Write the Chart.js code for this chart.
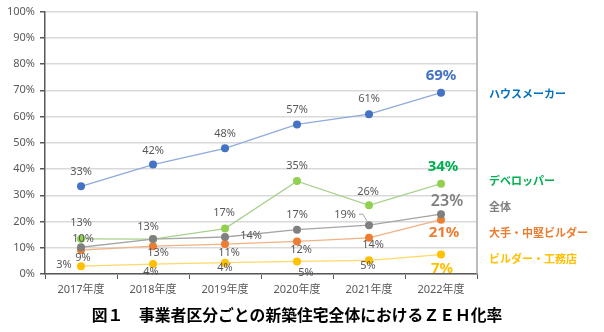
<!DOCTYPE html>
<html>
<head>
<meta charset="utf-8">
<script src="https://cdn.jsdelivr.net/npm/chart.js@4"></script>
<style>
  html, body { margin: 0; padding: 0; background: #fff; }
</style>
</head>
<body>
<canvas id="myChart" width="604" height="332"></canvas>
<script>
// data
var years = ['2017年度', '2018年度', '2019年度', '2020年度', '2021年度', '2022年度'];
var seriesNames = ['ハウスメーカー', 'デベロッパー', '全体', '大手・中堅ビルダー', 'ビルダー・工務店'];
var houseMaker = [33.4, 41.7, 47.9, 57.0, 60.9, 69.1];
var developer = [13.4, 13.3, 17.3, 35.4, 26.2, 34.4];
var overall = [10.2, 13.3, 14.1, 16.9, 18.6, 22.8];
var largeBuilder = [9.1, 10.6, 11.4, 12.4, 13.8, 20.7];
var smallBuilder = [3.0, 3.8, 4.3, 4.8, 5.2, 7.4];
var yTicks = [0, 10, 20, 30, 40, 50, 60, 70, 80, 90, 100];
var title = '図１　事業者区分ごとの新築住宅全体におけるＺＥＨ化率';

var FONT = "'Noto Sans', 'Noto Sans CJK JP', sans-serif";

// label placement (offset from point), null = no label; last one is the big coloured one
var labelOffsets = {
    houseMaker: [[0, -14], [0, -14], [0, -14], [0, -15], [0, -15], [0, -17]],
    developer: [[0, -16], [-5, -12], [-1, -16], [0, -15], [-1, -13], [2, -17]],
    overall: [[2, -8], [5, 14], [26, -1], [0, -15], [-24, -10], [6, -13]],
    largeBuilder: [[2, 8], null, [4, 9], [4, 8], [4, 7], [3, 13]],
    smallBuilder: [[-17, -1], [-2, 8], [0, 5], [9, 11], [-1, 6], [1, 14]]
};

var styles = {
    houseMaker: { line: '#8FAADC', point: '#4472C4', big: '#4472C4', legend: '#0070C0', legendY: 95 },
    developer: { line: '#A9D18E', point: '#92D050', big: '#00B050', legend: '#00B050', legendY: 182 },
    overall: { line: '#A5A5A5', point: '#808080', big: '#7F7F7F', legend: '#7F7F7F', legendY: 208 },
    largeBuilder: { line: '#F4B183', point: '#ED7D31', big: '#ED7D31', legend: '#ED7D31', legendY: 234 },
    smallBuilder: { line: '#FFD966', point: '#FFC000', big: '#FFC000', legend: '#FFC000', legendY: 260 }
};

var keys = ['houseMaker', 'developer', 'overall', 'largeBuilder', 'smallBuilder'];
var values = { houseMaker: houseMaker, developer: developer, overall: overall, largeBuilder: largeBuilder, smallBuilder: smallBuilder };

function makeDataset(key, idx) {
    var s = styles[key];
    return {
        label: seriesNames[idx],
        key: key,
        data: values[key],
        borderColor: s.line,
        borderWidth: 1.3,
        pointBackgroundColor: s.point,
        pointBorderColor: s.point,
        pointBorderWidth: 0,
        pointRadius: 4,
        tension: 0
    };
}

// drawing order: first dataset ends up on top
var drawOrder = ['houseMaker', 'overall', 'developer', 'largeBuilder', 'smallBuilder'];
var datasets = drawOrder.map(function (k) { return makeDataset(k, keys.indexOf(k)); });

var labelPlugin = {
    id: 'pointLabels',
    afterDatasetsDraw: function (chart) {
        var c = chart.ctx;
        c.save();
        c.textAlign = 'center';
        c.textBaseline = 'middle';
        chart.data.datasets.forEach(function (ds, i) {
            var meta = chart.getDatasetMeta(i);
            var offs = labelOffsets[ds.key];
            meta.data.forEach(function (pt, j) {
                var off = offs[j];
                if (!off) return;
                var last = j === ds.data.length - 1;
                if (last) {
                    c.font = (ds.key === 'overall' ? '600 16px ' : 'bold 15px ') + FONT;
                    c.fillStyle = styles[ds.key].big;
                } else {
                    c.font = '11px ' + FONT;
                    c.fillStyle = '#595959';
                }
                c.fillText(Math.round(ds.data[j]) + '%', pt.x + off[0], pt.y + off[1]);
                // little leader line for the 2021 overall label
                if (ds.key === 'overall' && j === 4) {
                    c.strokeStyle = '#A6A6A6';
                    c.lineWidth = 1;
                    c.beginPath();
                    c.moveTo(pt.x - 10, pt.y - 11);
                    c.lineTo(pt.x - 6, pt.y - 11);
                    c.lineTo(pt.x - 2, pt.y - 4);
                    c.stroke();
                }
            });
        });
        c.restore();
    },
    afterDraw: function (chart) {
        var c = chart.ctx;
        var area = chart.chartArea;
        c.save();
        // right border of plot area
        c.strokeStyle = '#A6A6A6';
        c.lineWidth = 1.5;
        c.beginPath();
        c.moveTo(area.right, area.top);
        c.lineTo(area.right, area.bottom);
        c.stroke();
        // legend at the right
        c.textAlign = 'left';
        c.textBaseline = 'middle';
        c.font = 'bold 11px ' + FONT;
        keys.forEach(function (k, i) {
            c.fillStyle = styles[k].legend;
            c.fillText(seriesNames[i], 489, styles[k].legendY);
        });
        // caption
        c.textAlign = 'center';
        c.fillStyle = '#000';
        c.font = 'bold 15.8px ' + FONT;
        c.fillText(title, 297, 316);
        c.restore();
    }
};

var ctx = document.getElementById('myChart').getContext('2d');
var myChart = new Chart(ctx, {
    type: 'line',
    data: {
        labels: years,
        datasets: datasets
    },
    options: {
        responsive: false,
        devicePixelRatio: 1,
        animation: false,
        layout: {
            padding: { left: 0, right: 127, top: 11.5, bottom: 34 }
        },
        plugins: {
            legend: { display: false },
            tooltip: { enabled: false }
        },
        scales: {
            x: {
                offset: true,
                grid: {
                    offset: true,
                    drawOnChartArea: false,
                    drawTicks: true,
                    tickLength: 5,
                    tickColor: '#595959'
                },
                border: { color: '#595959', width: 1.5 },
                ticks: {
                    color: '#595959',
                    font: { family: FONT, size: 11 },
                    padding: 4,
                    maxRotation: 0
                },
                afterFit: function (s) { s.height = 24; }
            },
            y: {
                min: 0,
                max: 100,
                afterBuildTicks: function (s) {
                    s.ticks = yTicks.map(function (v) { return { value: v }; });
                },
                grid: {
                    color: '#D9D9D9',
                    lineWidth: 1.5,
                    tickColor: '#595959',
                    tickLength: 5
                },
                border: { color: '#595959', width: 1.5 },
                ticks: {
                    color: '#595959',
                    font: { family: FONT, size: 11 },
                    padding: 5,
                    callback: function (v) { return v + '%'; }
                },
                afterFit: function (s) { s.width = 45; }
            }
        }
    },
    plugins: [labelPlugin]
});
</script>
</body>
</html>
